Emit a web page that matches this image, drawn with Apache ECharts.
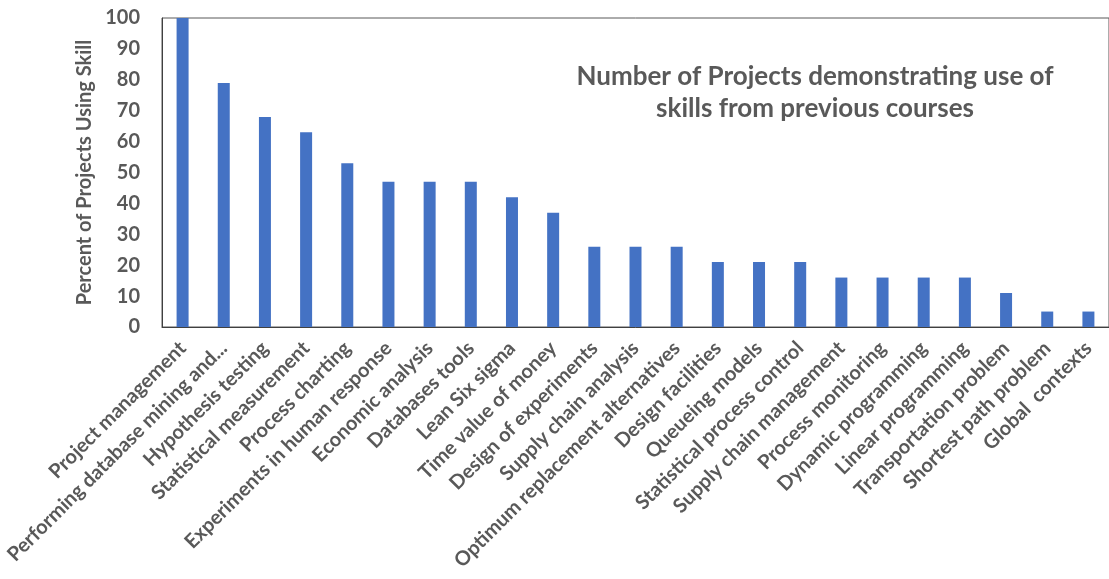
<!DOCTYPE html>
<html><head><meta charset="utf-8">
<script src="https://cdn.jsdelivr.net/npm/echarts@6/dist/echarts.min.js"></script>
<style>html,body{margin:0;padding:0;background:#fff}#c{width:1109px;height:579px}</style>
</head><body><div id="c"></div>
<script>
const categories = ["Project management","Performing database mining and...","Hypothesis testing","Statistical measurement","Process charting","Experiments in human response","Economic analysis","Databases tools","Lean Six sigma","Time value of money","Design of experiments","Supply chain analysis","Optimum replacement alternatives","Design facilities","Queueing models","Statistical process control","Supply chain management","Process monitoring","Dynamic programming","Linear programming","Transportation problem","Shortest path problem","Global  contexts"];
const values = [100,79,68,63,53,47,47,47,42,37,26,26,26,21,21,21,16,16,16,16,11,5,5];
const titleText = "Number of Projects demonstrating use of\nskills from previous courses";
const yName = "Percent of Projects Using Skill";

const chart = echarts.init(document.getElementById('c'));
const txt = '#595959';
const ff = 'Lato, "Open Sans", sans-serif';
chart.setOption({
  animation: false,
  title: {text: titleText, left: 810, top: 56, textAlign: 'center',
    textStyle: {fontFamily: ff, fontSize: 26, fontWeight: 'bold', color: txt, lineHeight: 32}},
  grid: {left: 162, top: 18, width: 957, height: 309, show: true, borderColor: '#595959', borderWidth: 1, containLabel: false},
  xAxis: {type: 'category', data: categories,
    axisLine: {lineStyle: {color: '#404040'}}, axisTick: {show: false},
    axisLabel: {interval: 0, rotate: 45, fontFamily: ff, fontSize: 20, fontWeight: 'bold', color: txt, margin: 18}},
  yAxis: {type: 'value', min: 0, max: 100, interval: 10,
    name: yName, nameLocation: 'middle', nameGap: 58, nameRotate: 90,
    nameTextStyle: {fontFamily: ff, fontSize: 20, fontWeight: 'bold', color: txt},
    axisLine: {show: true, lineStyle: {color: '#404040'}}, axisTick: {show: false}, splitLine: {show: false},
    axisLabel: {fontFamily: ff, fontSize: 20, fontWeight: 'bold', color: txt, margin: 22}},
  series: [{type: 'bar', data: values, barWidth: 12, itemStyle: {color: '#4472C4'}}]
});
</script></body></html>
